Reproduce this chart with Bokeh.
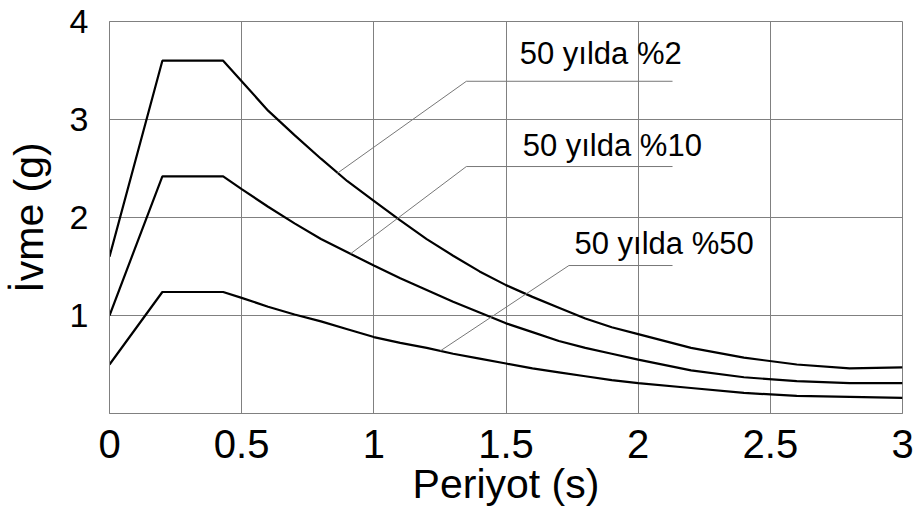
from bokeh.plotting import figure
from bokeh.models import FixedTicker, Label
from bokeh.embed import file_html
from bokeh.resources import INLINE

# ---- data ----
periods = [0, 0.2, 0.43, 0.5, 0.6, 0.7, 0.8, 0.9, 1.0, 1.1, 1.2, 1.3, 1.4, 1.5,
           1.6, 1.7, 1.8, 1.9, 2.0, 2.2, 2.4, 2.6, 2.8, 3.0]
acc_2 = [1.6, 3.6, 3.6, 3.39, 3.09, 2.84, 2.6, 2.37, 2.17, 1.97, 1.78, 1.61, 1.45, 1.31,
         1.19, 1.08, 0.97, 0.88, 0.81, 0.67, 0.57, 0.50, 0.46, 0.47]
acc_10 = [1.0, 2.42, 2.42, 2.29, 2.11, 1.94, 1.78, 1.645, 1.51, 1.38, 1.26, 1.14, 1.03, 0.92,
          0.83, 0.74, 0.67, 0.61, 0.55, 0.44, 0.37, 0.33, 0.31, 0.31]
acc_50 = [0.5, 1.24, 1.24, 1.18, 1.09, 1.01, 0.94, 0.86, 0.78, 0.72, 0.67, 0.61, 0.56, 0.51,
          0.46, 0.42, 0.38, 0.34, 0.31, 0.26, 0.21, 0.18, 0.17, 0.16]

series_labels = ["50 yılda %2", "50 yılda %10", "50 yılda %50"]
label_x = [1.552, 1.563, 1.759]
label_y = [3.67, 2.73, 1.73]
leader_x = [[0.861, 1.35, 2.13], [0.912, 1.35, 2.13], [1.252, 1.738, 2.13]]
leader_y = [[2.45, 3.39, 3.39], [1.63, 2.52, 2.52], [0.64, 1.51, 1.51]]

x_ticks = [0, 0.5, 1, 1.5, 2, 2.5, 3]
x_tick_labels = ["0", "0.5", "1", "1.5", "2", "2.5", "3"]
y_ticks = [1, 2, 3, 4]
y_tick_labels = ["1", "2", "3", "4"]
x_title = "Periyot (s)"
y_title = "İvme (g)"

FONT = "Liberation Sans"
GRID = "#808080"

p = figure(width=922, height=517, x_range=(0, 3), y_range=(0, 4),
           output_backend="svg", toolbar_location=None,
           min_border_left=109, min_border_right=20,
           min_border_top=21, min_border_bottom=104)

p.background_fill_color = "white"
p.border_fill_color = "white"
p.outline_line_color = GRID
p.outline_line_width = 1

for ax in (p.xaxis, p.yaxis):
    ax.major_tick_line_color = None
    ax.minor_tick_line_color = None
    ax.axis_line_color = GRID
    ax.major_label_text_font = FONT
    ax.major_label_text_color = "black"
    ax.axis_label_text_font = FONT
    ax.axis_label_text_font_style = "normal"
    ax.axis_label_text_color = "black"
    ax.major_label_text_line_height = 1.0
    ax.axis_label_text_line_height = 1.0

p.xaxis.ticker = FixedTicker(ticks=x_ticks)
p.xaxis.major_label_overrides = {t: s for t, s in zip(x_ticks, x_tick_labels)}
p.yaxis.ticker = FixedTicker(ticks=y_ticks)
p.yaxis.major_label_overrides = {t: s for t, s in zip(y_ticks, y_tick_labels)}

p.xaxis.major_label_text_font_size = "40px"
p.yaxis.major_label_text_font_size = "34px"
p.xaxis.major_label_standoff = 10
p.yaxis.major_label_standoff = 15
p.xaxis.axis_label = x_title
p.xaxis.axis_label_text_font_size = "41px"
p.xaxis.axis_label_standoff = 0
p.yaxis.axis_label = y_title
p.yaxis.axis_label_text_font_size = "41px"
p.yaxis.axis_label_standoff = 15

p.xgrid.grid_line_color = GRID
p.ygrid.grid_line_color = GRID
p.xgrid.grid_line_width = 1
p.ygrid.grid_line_width = 1
p.ygrid.ticker = FixedTicker(ticks=[0] + y_ticks)

for ys in (acc_2, acc_10, acc_50):
    p.line(periods, ys, line_color="black", line_width=2.2)

p.multi_line(leader_x, leader_y, line_color="#777777", line_width=1)

for txt, lx, ly in zip(series_labels, label_x, label_y):
    p.add_layout(Label(x=lx, y=ly, text=txt, text_font=FONT,
                       text_font_size="31px", text_color="black",
                       text_baseline="alphabetic", text_align="left"))

open("out.html", "w").write(file_html(p, INLINE))
